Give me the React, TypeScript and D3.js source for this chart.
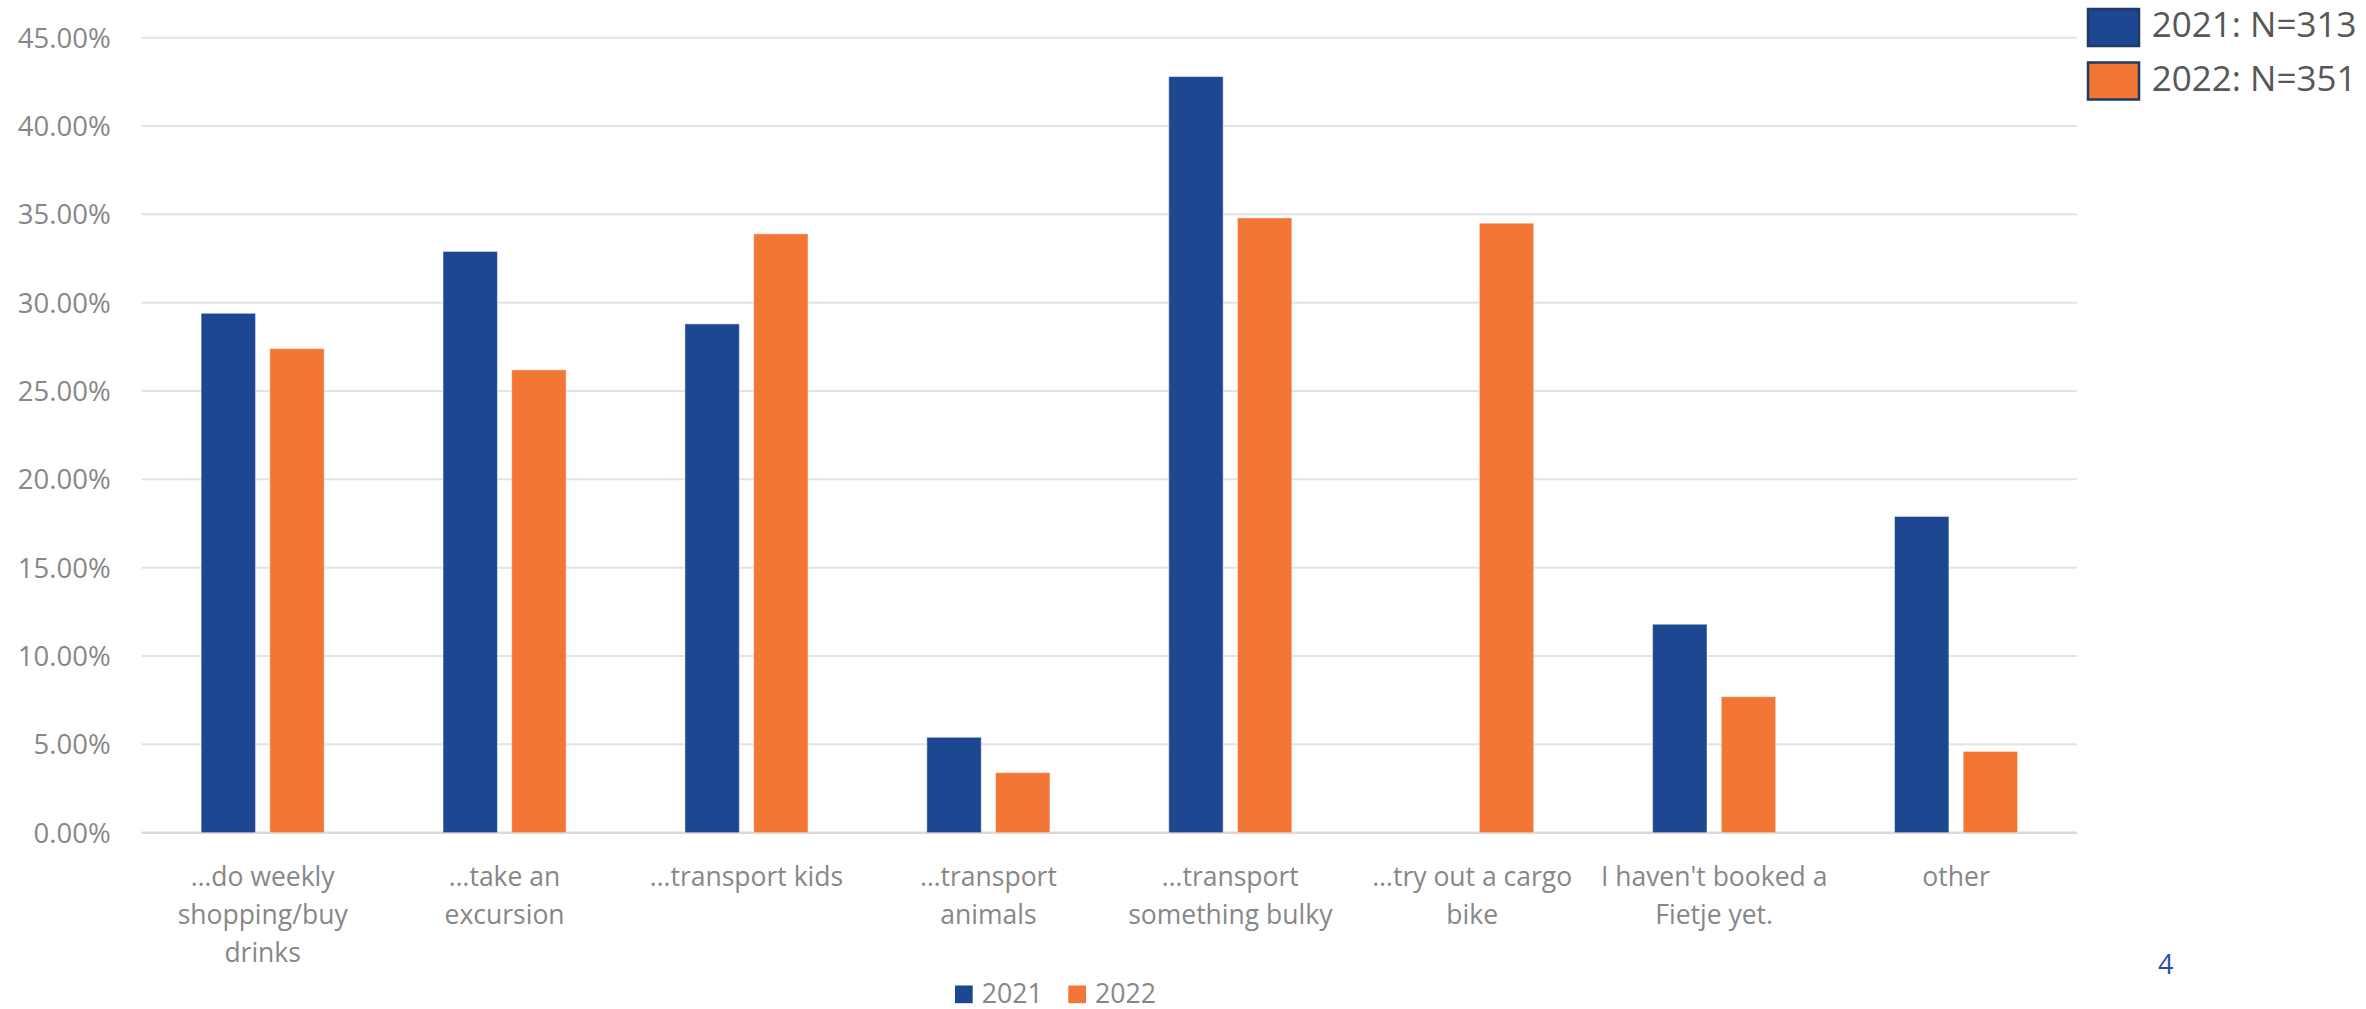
import React from "react";
import * as d3 from "d3";

// Survey: reasons for booking a cargo bike, share of respondents per year
const categories = [
  "…do weekly\nshopping/buy\ndrinks",
  "…take an\nexcursion",
  "…transport kids",
  "…transport\nanimals",
  "…transport\nsomething bulky",
  "…try out a cargo\nbike",
  "I haven't booked a\nFietje yet.",
  "other",
];
const seriesNames = ["2021", "2022"];
const values2021 = [29.4, 32.9, 28.8, 5.4, 42.8, 0, 11.8, 17.9];
const values2022 = [27.4, 26.2, 33.9, 3.4, 34.8, 34.5, 7.7, 4.6];
const yTicks = [0, 5, 10, 15, 20, 25, 30, 35, 40, 45];
const sampleLabels = ["2021: N=313", "2022: N=351"];
const pageNumber = "4";

const W = 2366;
const H = 1009;
const COLORS = ["#1d4791", "#f27736"];
const FONT = "'Open Sans', 'Noto Sans', sans-serif";

export default function App() {
  const plotLeft = 141.7;
  const plotRight = 2077;
  const plotTop = 37.7;
  const plotBottom = 832.7;

  const x = d3.scaleBand<string>().domain(categories).range([plotLeft, plotRight]);
  const inner = d3
    .scaleBand<string>()
    .domain(seriesNames)
    .range([0, x.bandwidth()])
    .paddingInner(0.208)
    .paddingOuter(0.865);
  const y = d3.scaleLinear().domain([0, 45]).range([plotBottom, plotTop]);
  const fmt = (v: number) => d3.format(".2f")(v) + "%";
  const series = [values2021, values2022];

  return (
    <div style={{ position: "fixed", left: 0, top: 0, width: W, height: H, background: "#fff" }}>
      <svg width={W} height={H} style={{ display: "block" }} fontFamily={FONT}>
        <rect x={0} y={0} width={W} height={H} fill="#ffffff" />
        {/* gridlines */}
        {yTicks.map((t) => (
          <line
            key={"g" + t}
            x1={plotLeft}
            x2={plotRight}
            y1={y(t)}
            y2={y(t)}
            stroke={t === 0 ? "#d9d9d9" : "#e3e3e3"}
            strokeWidth={t === 0 ? 2.5 : 2}
          />
        ))}
        {/* y tick labels */}
        {yTicks.map((t) => (
          <text
            key={"t" + t}
            x={110.7}
            y={y(t)}
            dy="0.36em"
            textAnchor="end"
            fontSize={27.5}
            fill="#878787"
          >
            {fmt(t)}
          </text>
        ))}
        {/* bars */}
        {series.map((vals, si) =>
          vals.map((v, ci) =>
            v > 0 ? (
              <rect
                key={`b${si}-${ci}`}
                x={(x(categories[ci]) as number) + (inner(seriesNames[si]) as number)}
                y={y(v)}
                width={inner.bandwidth()}
                height={y(0) - y(v)}
                fill={COLORS[si]}
                stroke="#ffffff"
                strokeOpacity={0.45}
                strokeWidth={1}
              />
            ) : null
          )
        )}
        {/* category labels */}
        {categories.map((c) => {
          const cx = (x(c) as number) + x.bandwidth() / 2;
          return (
            <text key={"c" + c} textAnchor="middle" fontSize={26.5} fill="#878787">
              {c.split("\n").map((line, i) => (
                <tspan key={i} x={cx} y={885.7 + i * 38}>
                  {line}
                </tspan>
              ))}
            </text>
          );
        })}
        {/* bottom legend */}
        {seriesNames.map((s, i) => {
          const lx = 955 + i * 113.3;
          return (
            <g key={"l" + s}>
              <rect x={lx} y={985.5} width={17.7} height={17.7} fill={COLORS[i]} />
              <text x={lx + 26.7} y={1002.5} fontSize={26.7} fill="#878787">
                {s}
              </text>
            </g>
          );
        })}
        {/* sample size legend */}
        {sampleLabels.map((s, i) => {
          const ly = 9 + i * 53.5;
          return (
            <g key={"n" + s}>
              <rect
                x={2088}
                y={ly}
                width={51}
                height={37}
                fill={COLORS[i]}
                stroke="#203864"
                strokeWidth={2.5}
              />
              <text x={2151.7} y={ly + 28.3} fontSize={35} fill="#575757">
                {s}
              </text>
            </g>
          );
        })}
        <text x={2158} y={974.3} fontSize={27} fill="#2a4ea0">
          {pageNumber}
        </text>
      </svg>
    </div>
  );
}
